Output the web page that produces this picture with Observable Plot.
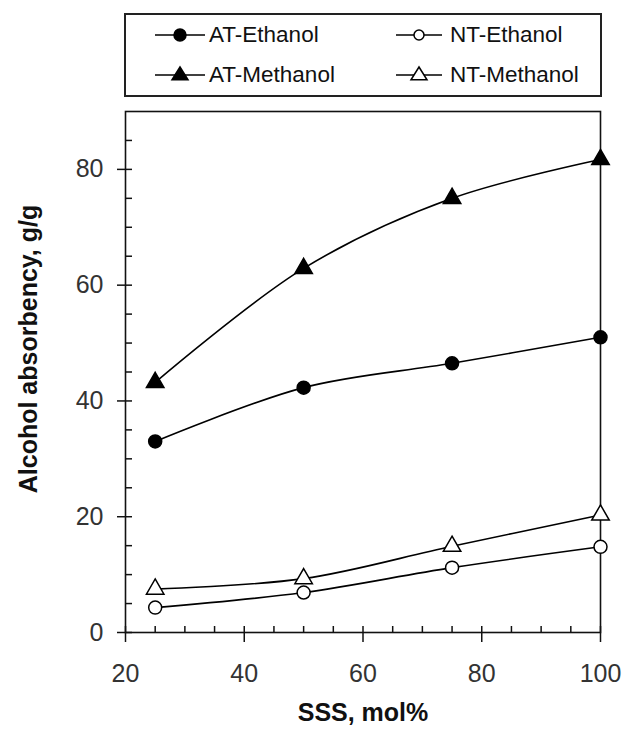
<!DOCTYPE html>
<html>
<head>
<meta charset="utf-8">
<script src="https://cdn.jsdelivr.net/npm/d3@7"></script>
<script src="https://cdn.jsdelivr.net/npm/@observablehq/plot@0.6"></script>
<style>
  body { margin: 0; background: #fff; font-family: "Liberation Sans", Arial, sans-serif; }
  #wrap { position: relative; width: 627px; height: 730px; }
  #legend { position: absolute; left: 0; top: 0; width: 627px; height: 100px; }
  #legend .box { position: absolute; left: 124px; top: 13px; width: 474px; height: 80px; border: 2px solid #222; }
  #legend .item { position: absolute; display: flex; align-items: center; height: 30px; font-size: 22.5px; color: #111; }
  #legend .item svg { margin-right: 4px; }
  #chart { position: absolute; left: 0; top: 100px; }
</style>
</head>
<body>
<div id="wrap">
  <div id="legend"><div class="box"></div></div>
  <div id="chart"></div>
</div>
<script>
// ---- data ----
const sss = [25, 50, 75, 100];
const atEthanol  = [33.0, 42.3, 46.5, 51.0];
const ntEthanol  = [4.3, 6.9, 11.2, 14.8];
const atMethanol = [43.2, 62.9, 75.0, 81.7];
const ntMethanol = [7.5, 9.3, 14.9, 20.3];
const seriesNames = ["AT-Ethanol", "NT-Ethanol", "AT-Methanol", "NT-Methanol"];
const seriesValues = [atEthanol, ntEthanol, atMethanol, ntMethanol];
const seriesSymbols = ["circle", "circle", "triangle", "triangle"];
const seriesFills = ["black", "white", "black", "white"];
const xTicks = [20, 40, 60, 80, 100];
const yTicks = [0, 20, 40, 60, 80];
const xLabel = "SSS, mol%";
const yLabel = "Alcohol absorbency, g/g";

const rows = [];
seriesNames.forEach((name, i) => {
  sss.forEach((x, j) => rows.push({series: name, x, y: seriesValues[i][j]}));
});

// ---- legend (HTML) ----
const legendPos = [
  {left: 155, top: 20}, {left: 396, top: 20},
  {left: 155, top: 60}, {left: 396, top: 60}
];
seriesNames.forEach((name, i) => {
  const div = document.createElement("div");
  div.className = "item";
  div.style.left = legendPos[i].left + "px";
  div.style.top = legendPos[i].top + "px";
  const w = i % 2 === 0 ? 50 : 46;
  const cx = w / 2, cy = 15;
  let marker;
  if (seriesSymbols[i] === "circle") {
    marker = `<circle cx="${cx}" cy="${cy}" r="${i===0?6:5}" fill="${seriesFills[i]}" stroke="black" stroke-width="1.5"/>`;
  } else {
    const s = 8;
    marker = `<path d="M${cx},${cy - s} L${cx + s},${cy + s*0.6} L${cx - s},${cy + s*0.6} Z" fill="${seriesFills[i]}" stroke="black" stroke-width="1.5"/>`;
  }
  div.innerHTML = `<svg width="${w}" height="30" style="margin-right:${i % 2 === 0 ? 4 : 8}px"><line x1="0" y1="${cy}" x2="${w}" y2="${cy}" stroke="black" stroke-width="1.5"/>${marker}</svg><span>${name}</span>`;
  document.getElementById("legend").appendChild(div);
});

// ---- chart ----
const chart = Plot.plot({
  width: 627,
  height: 630,
  marginLeft: 125,
  marginRight: 27,
  marginTop: 11,
  marginBottom: 98,
  style: {fontFamily: "Liberation Sans, Arial, sans-serif", background: "white", overflow: "visible"},
  x: {domain: [20, 100]},
  y: {domain: [0, 90]},
  symbol: {domain: seriesNames, range: seriesSymbols},
  color: {domain: seriesNames, range: seriesFills},
  marks: [
    Plot.frame({stroke: "#111", strokeWidth: 1.6}),
    Plot.axisY({ticks: yTicks, tickSize: 8, tickPadding: 14, fontSize: 25, label: null, stroke: "#111", strokeWidth: 1.5, color: "#333"}),
    Plot.axisY({ticks: d3.range(0, 90, 5), tickSize: -7, text: null, label: null, stroke: "#111", strokeWidth: 1.5}),
    Plot.axisX({ticks: xTicks, tickSize: 10, tickPadding: 22, fontSize: 25, label: null, stroke: "#111", strokeWidth: 1.5, color: "#333"}),
    Plot.axisX({ticks: d3.range(20, 101, 5), tickSize: -6, text: null, label: null, stroke: "#111", strokeWidth: 1.5}),
    Plot.line(rows, {x: "x", y: "y", z: "series", curve: "catmull-rom", stroke: "black", strokeWidth: 1.6}),
    Plot.dot(rows, {x: "x", y: "y", symbol: "series", fill: "series", stroke: "black", strokeWidth: 1.5, r: 6.5}),
    Plot.text([yLabel], {frameAnchor: "left", textAnchor: "middle", rotate: -90, dx: -97, dy: -23, fontSize: 25, fontWeight: "bold", fill: "#111"}),
    Plot.text([xLabel], {frameAnchor: "bottom", dy: 88, fontSize: 25, fontWeight: "bold", fill: "#111"})
  ]
});
document.getElementById("chart").appendChild(chart);
</script>
</body>
</html>
